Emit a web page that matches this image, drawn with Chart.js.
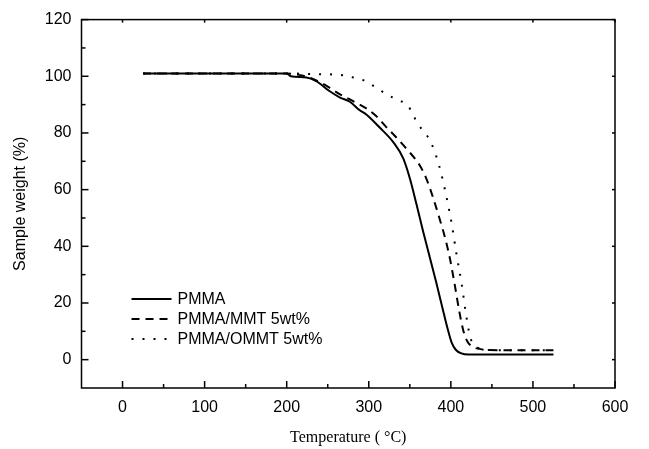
<!DOCTYPE html>
<html>
<head>
<meta charset="utf-8">
<style>
  html, body { margin: 0; padding: 0; background: #fff; }
  #wrap { width: 649px; height: 449px; position: relative; }
</style>
<script src="https://cdn.jsdelivr.net/npm/chart.js@4.4.1/dist/chart.umd.min.js"></script>
</head>
<body>
<div id="wrap"><canvas id="c" width="649" height="449"></canvas></div>
<script>
// ---- Data ----
const seriesNames = ['PMMA', 'PMMA/MMT 5wt%', 'PMMA/OMMT 5wt%'];

const pmmaT = [25, 200, 205, 224, 236, 252, 265, 277, 289, 297, 313, 330, 342, 350, 358, 366, 374, 382, 390, 396, 401, 406, 412, 422, 525];
const pmmaW = [101, 101, 100, 99.6, 98.3, 94.8, 92.5, 91, 88, 86.5, 82, 76.7, 71, 64, 55, 45.5, 36.5, 27.5, 18, 11, 6, 3.5, 2.3, 1.8, 1.8];

const mmtT = [25, 200, 215, 228, 240, 252, 265, 276, 287, 298, 309, 320, 330, 346, 362, 370, 378, 386, 393, 399, 405, 410, 415, 420, 426, 435, 445, 525];
const mmtW = [101, 101, 100.5, 99.5, 98, 96, 93.6, 92, 90.3, 88.5, 86, 82.5, 79.5, 74.4, 68.6, 64, 57.5, 50, 43, 35.5, 26, 17.5, 10.5, 6.5, 4.6, 3.8, 3.4, 3.3];

const ommtT = [25, 200, 230, 268, 281, 295, 309, 322, 334, 348, 360, 370, 376, 382, 388, 395, 401, 407, 413, 418, 422, 426, 433, 445, 525];
const ommtW = [101, 101, 100.8, 100.4, 99.6, 98.4, 96, 93.6, 91.8, 89.5, 83.1, 79.5, 76.5, 72, 66, 57, 48, 37, 27, 17, 10, 6, 4.2, 3.4, 3.3];

const xTicks = [0, 100, 200, 300, 400, 500, 600];
const xMinor = [50, 150, 250, 350, 450, 550];
const yTicks = [0, 20, 40, 60, 80, 100, 120];
const yMinor = [10, 30, 50, 70, 90, 110];

const xTitle = 'Temperature ( \u00B0C)';
const yTitle = 'Sample weight (%)';

// ---- Helpers ----
const toXY = (xs, ys) => xs.map((x, i) => ({ x: x, y: ys[i] }));
const sans = "'Liberation Sans', Arial, sans-serif";
const serif = "'Liberation Serif', 'Times New Roman', serif";

const tickPlugin = {
  id: 'boxTicks',
  afterDraw(chart) {
    const { ctx, chartArea: a, scales: { x, y } } = chart;
    ctx.save();
    ctx.strokeStyle = '#000';
    ctx.lineWidth = 1.5;
    ctx.strokeRect(a.left, a.top, a.right - a.left, a.bottom - a.top);
    const seg = (x1, y1, x2, y2) => { ctx.beginPath(); ctx.moveTo(x1, y1); ctx.lineTo(x2, y2); ctx.stroke(); };
    xTicks.forEach(v => { const p = x.getPixelForValue(v); seg(p, a.bottom, p, a.bottom - 7); seg(p, a.top, p, a.top + 3); });
    xMinor.forEach(v => { const p = x.getPixelForValue(v); seg(p, a.bottom, p, a.bottom - 4); });
    yTicks.forEach(v => { const p = y.getPixelForValue(v); seg(a.left, p, a.left + 7, p); seg(a.right, p, a.right - 3, p); });
    yMinor.forEach(v => { const p = y.getPixelForValue(v); seg(a.left, p, a.left + 4, p); });
    ctx.restore();
  }
};

const legendPlugin = {
  id: 'innerLegend',
  afterDraw(chart) {
    const { ctx, chartArea: a } = chart;
    ctx.save();
    ctx.font = '16px ' + sans;
    ctx.textBaseline = 'middle';
    ctx.fillStyle = '#000';
    chart.data.datasets.forEach((ds, i) => {
      const yy = a.bottom - 89 + i * 20;
      const x0 = a.left + 50;
      ctx.strokeStyle = ds.borderColor;
      ctx.lineWidth = ds.borderWidth;
      ctx.setLineDash(ds.borderDash || []);
      ctx.beginPath(); ctx.moveTo(x0, yy); ctx.lineTo(x0 + 40, yy); ctx.stroke();
      ctx.setLineDash([]);
      ctx.fillText(ds.label, x0 + 46, yy + 1);
    });
    ctx.restore();
  }
};

new Chart(document.getElementById('c'), {
  type: 'line',
  data: {
    datasets: [
      { label: seriesNames[0], data: toXY(pmmaT, pmmaW), borderColor: '#000', borderWidth: 2, borderDash: [], pointRadius: 0, cubicInterpolationMode: 'monotone', fill: false },
      { label: seriesNames[1], data: toXY(mmtT, mmtW), borderColor: '#000', borderWidth: 2, borderDash: [8, 6], pointRadius: 0, cubicInterpolationMode: 'monotone', fill: false },
      { label: seriesNames[2], data: toXY(ommtT, ommtW), borderColor: '#000', borderWidth: 2, borderDash: [2, 9], pointRadius: 0, cubicInterpolationMode: 'monotone', fill: false }
    ]
  },
  options: {
    responsive: false,
    animation: false,
    devicePixelRatio: 1,
    layout: { padding: { top: 16, right: 34, left: 0, bottom: 0 } },
    plugins: { legend: { display: false }, tooltip: { enabled: false } },
    scales: {
      x: {
        type: 'linear', min: -50, max: 600,
        grid: { display: false, drawTicks: false },
        border: { display: false },
        afterBuildTicks: s => { s.ticks = xTicks.map(v => ({ value: v })); },
        afterFit: s => { s.height = 61; },
        ticks: { color: '#000', font: { family: sans, size: 16 }, padding: 10, maxRotation: 0 },
        title: { display: true, text: xTitle, color: '#000', font: { family: serif, size: 16 }, padding: { top: 4, bottom: 2 } }
      },
      y: {
        type: 'linear', min: -10, max: 120,
        grid: { display: false, drawTicks: false },
        border: { display: false },
        afterBuildTicks: s => { s.ticks = yTicks.map(v => ({ value: v })); },
        afterFit: s => { s.width = 81.5; },
        ticks: { color: '#000', font: { family: sans, size: 16 }, padding: 10 },
        title: { display: true, text: yTitle, color: '#000', font: { family: sans, size: 16 }, padding: { top: 11, bottom: 0 } }
      }
    }
  },
  plugins: [tickPlugin, legendPlugin]
});
</script>
</body>
</html>
